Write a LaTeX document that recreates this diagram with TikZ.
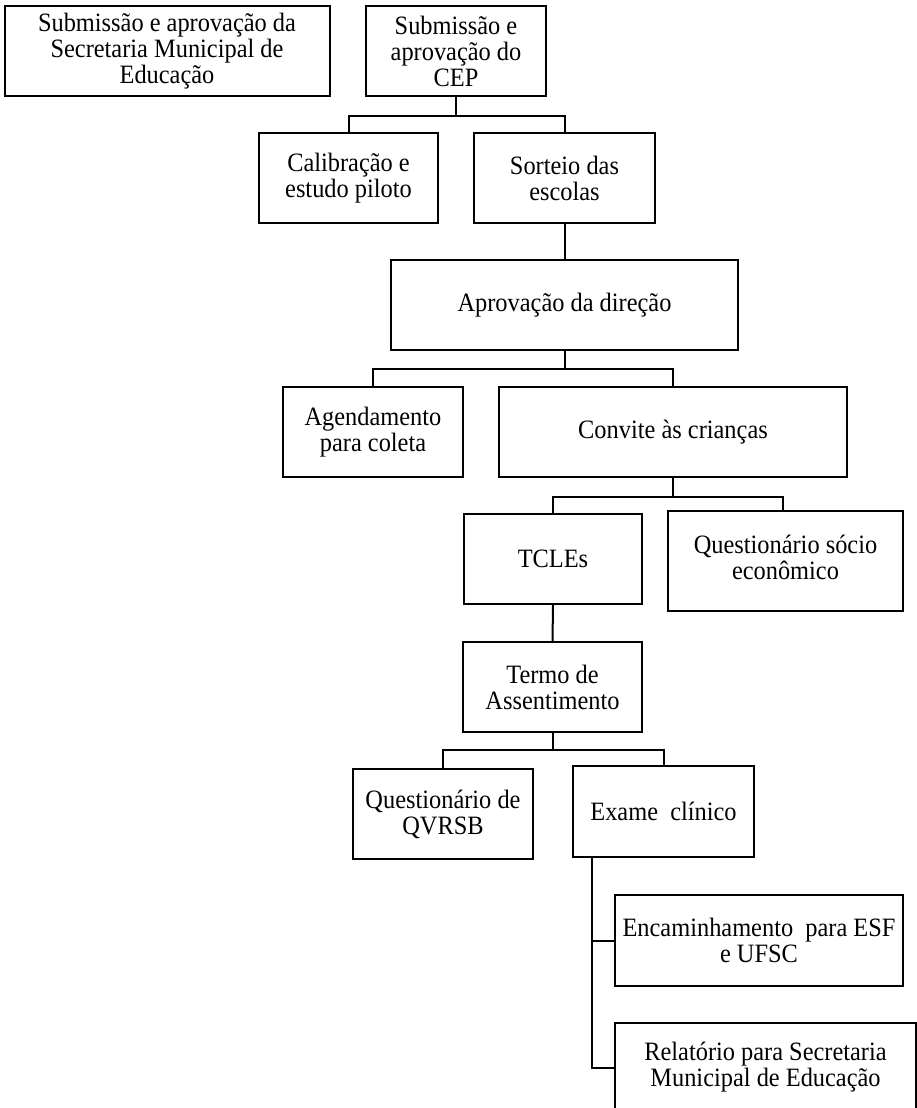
\documentclass[tikz,border=0pt]{standalone}
\usepackage{fontspec}
\setmainfont{Liberation Serif}[FakeStretch=0.92]
\usetikzlibrary{calc}
\begin{document}
\begin{tikzpicture}[x=1pt,y=-1pt,
  box/.style={draw=black,line width=2pt,inner sep=0pt,align=center,
    font=\fontsize{26.5}{26}\selectfont},
  link/.style={draw=black,line width=2pt}]
\path[use as bounding box,clip] (0,0) rectangle (917,1108);
\fill[white] (0,0) rectangle (917,1108);
% boxes
\node[box,minimum width=325pt,minimum height=90pt] (sme) at (167,51)
  {Submissão e aprovação da\\Secretaria Municipal de\\Educação};
\node[box,minimum width=180pt,minimum height=90pt] (cep) at (456,51)
  {Submissão e\\aprovação do\\CEP};
\node[box,minimum width=179pt,minimum height=90pt] (cal) at (348.5,178)
  {Calibração e\\estudo piloto};
\node[box,minimum width=181pt,minimum height=90pt] (sort) at (564.5,178)
  {Sorteio das\\escolas};
\node[box,minimum width=347pt,minimum height=90pt] (aprov) at (564.5,305)
  {Aprovação da direção};
\node[box,minimum width=180pt,minimum height=90pt] (agend) at (373,432)
  {Agendamento\\para coleta};
\node[box,minimum width=348pt,minimum height=90pt] (conv) at (673,432)
  {Convite às crianças};
\node[box,minimum width=178pt,minimum height=90pt] (tcle) at (553,559)
  {TCLEs};
\node[box,minimum width=235pt,minimum height=100pt] (qse) at (785.5,561)
  {\raisebox{8pt}{\begin{tabular}{@{}c@{}}Questionário sócio\\econômico\end{tabular}}};
\node[box,minimum width=179pt,minimum height=90pt] (termo) at (552.5,687)
  {Termo de\\Assentimento};
\node[box,minimum width=180pt,minimum height=90pt] (qvr) at (443,814)
  {Questionário de\\QVRSB};
\node[box,minimum width=181pt,minimum height=91pt] (exame) at (663.5,811.5)
  {Exame \ clínico};
\node[box,minimum width=288pt,minimum height=91pt] (enc) at (759,940.5)
  {Encaminhamento \ para ESF\\e UFSC};
\node[box,minimum width=301pt,minimum height=90pt] (rel) at (765.5,1068)
  {\raisebox{-9pt}{\begin{tabular}{@{}c@{}}Relatório para Secretaria\\Municipal de Educação\end{tabular}}};
% junctions
\coordinate (j1) at ($(cep.south)+(0,19)$);
\coordinate (j2) at ($(aprov.south)+(0,18)$);
\coordinate (j3) at ($(conv.south)+(0,19)$);
\coordinate (j4) at ($(termo.south)+(0,17)$);
\coordinate (e0) at ($(exame.south west)+(20,0)$);
% connectors
\draw[link] (cep.south) -- (j1);
\draw[link] (cal.north) |- (j1) -| (sort.north);
\draw[link] (sort.south) -- (aprov.north);
\draw[link] (aprov.south) -- (j2);
\draw[link] (agend.north) |- (j2) -| (conv.north);
\draw[link] (conv.south) -- (j3);
\draw[link] (tcle.north) |- (j3) -| ($(qse.north)+(-3,0)$);
\draw[link] (tcle.south) -- (termo.north);
\draw[link] (termo.south) -- (j4);
\draw[link] (qvr.north) |- (j4) -| (exame.north);
\draw[link] (e0) |- (enc.west);
\draw[link] (e0) |- (rel.west);
\end{tikzpicture}
\end{document}
